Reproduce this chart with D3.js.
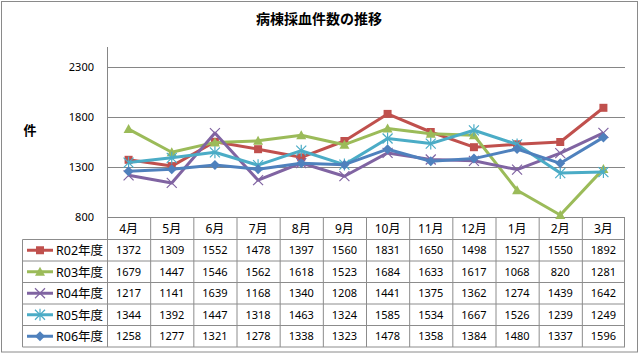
<!DOCTYPE html>
<html>
<head>
<meta charset="utf-8">
<script src="https://cdn.jsdelivr.net/npm/d3@7"></script>
<style>
  body { margin: 0; background: #fff; }
  svg { display: block; }
  text { font-family: "Noto Sans", "Noto Sans CJK JP", sans-serif; fill: #000; }
</style>
</head>
<body>
<div id="chart"></div>
<script>
const months = ["4月", "5月", "6月", "7月", "8月", "9月", "10月", "11月", "12月", "1月", "2月", "3月"];
const seriesNames = ["R02年度", "R03年度", "R04年度", "R05年度", "R06年度"];
const r02 = [1372, 1309, 1552, 1478, 1397, 1560, 1831, 1650, 1498, 1527, 1550, 1892];
const r03 = [1679, 1447, 1546, 1562, 1618, 1523, 1684, 1633, 1617, 1068, 820, 1281];
const r04 = [1217, 1141, 1639, 1168, 1340, 1208, 1441, 1375, 1362, 1274, 1439, 1642];
const r05 = [1344, 1392, 1447, 1318, 1463, 1324, 1585, 1534, 1667, 1526, 1239, 1249];
const r06 = [1258, 1277, 1321, 1278, 1338, 1323, 1478, 1358, 1384, 1480, 1337, 1596];
const yTicks = [800, 1300, 1800, 2300];

const seriesValues = [r02, r03, r04, r05, r06];
const colors = ["#C0504D", "#9BBB59", "#8064A2", "#4BACC6", "#4F81BD"];
const markers = ["square", "triangle", "x", "star", "diamond"];

const W = 640, H = 355;
const plotLeft = 107, plotRight = 625, plotTop = 47, plotBottom = 217;
const headerH = 22, rowH = 21.5, legendLeft = 22.5;

const svg = d3.select("#chart").append("svg")
  .attr("width", W).attr("height", H);

svg.append("rect")
  .attr("x", 1.5).attr("y", 1.5)
  .attr("width", 636).attr("height", 350.5)
  .attr("fill", "#fff").attr("stroke", "#8a8a8a");

svg.append("text")
  .attr("x", 319).attr("y", 24)
  .attr("text-anchor", "middle")
  .style("font-family", "'Noto Sans CJK JP', sans-serif")
  .style("font-weight", "bold")
  .style("font-size", "14px")
  .text("病棟採血件数の推移");

const x = d3.scaleBand().domain(months).range([plotLeft, plotRight]);
const y = d3.scaleLinear().domain([800, 2500]).range([plotBottom, plotTop]);

// gridlines
svg.append("g").selectAll("line").data(yTicks).join("line")
  .attr("x1", plotLeft).attr("x2", plotRight)
  .attr("y1", d => Math.round(y(d)) + 0.5).attr("y2", d => Math.round(y(d)) + 0.5)
  .attr("stroke", "#868686");

// y axis
svg.append("line")
  .attr("x1", plotLeft + 0.5).attr("x2", plotLeft + 0.5)
  .attr("y1", plotTop).attr("y2", plotBottom)
  .attr("stroke", "#868686");

svg.append("g").selectAll("text").data(yTicks).join("text")
  .attr("x", 94).attr("y", d => y(d) + 4)
  .attr("text-anchor", "end")
  .style("font-size", "11px")
  .text(d => d);

svg.append("text")
  .attr("x", 30).attr("y", 135)
  .attr("text-anchor", "middle")
  .style("font-family", "'Noto Sans CJK JP', sans-serif")
  .style("font-weight", "bold")
  .style("font-size", "13px")
  .text("件");

// data table
const tableTop = Math.round(y(800)) + 0.5;
const rowsTop = tableTop + headerH;
const tableBottom = rowsTop + rowH * seriesNames.length;
const grid = svg.append("g").attr("stroke", "#8c8c8c").attr("fill", "none");

months.forEach(m => {
  grid.append("line")
    .attr("x1", x(m) + 0.5).attr("x2", x(m) + 0.5)
    .attr("y1", tableTop).attr("y2", tableBottom);
});
grid.append("line")
  .attr("x1", plotRight - 0.5).attr("x2", plotRight - 0.5)
  .attr("y1", tableTop).attr("y2", tableBottom);
grid.append("line")
  .attr("x1", legendLeft).attr("x2", legendLeft)
  .attr("y1", rowsTop).attr("y2", tableBottom);
seriesNames.forEach((s, i) => {
  grid.append("line")
    .attr("x1", legendLeft).attr("x2", plotRight)
    .attr("y1", rowsTop + rowH * i).attr("y2", rowsTop + rowH * i);
});
grid.append("line")
  .attr("x1", legendLeft).attr("x2", plotRight)
  .attr("y1", tableBottom).attr("y2", tableBottom);

svg.append("g").selectAll("text").data(months).join("text")
  .attr("x", d => x(d) + x.bandwidth() / 2)
  .attr("y", tableTop + 15)
  .attr("text-anchor", "middle")
  .style("font-size", "12px")
  .text(d => d);

seriesValues.forEach((vals, i) => {
  const cy = rowsTop + rowH * i + rowH / 2;
  svg.append("g").selectAll("text").data(vals).join("text")
    .attr("x", (d, j) => x(months[j]) + x.bandwidth() / 2)
    .attr("y", cy + 4)
    .attr("text-anchor", "middle")
    .style("font-size", "11px")
    .text(d => d);
  svg.append("text")
    .attr("x", 56).attr("y", cy + 5)
    .style("font-size", "12.5px")
    .text(seriesNames[i]);
});

function drawMarker(g, type, color, cx, cy) {
  if (type === "square") {
    g.append("rect").attr("x", cx - 4).attr("y", cy - 4)
      .attr("width", 8).attr("height", 8).attr("fill", color);
  } else if (type === "triangle") {
    g.append("path").attr("d", `M${cx},${cy - 5}L${cx + 5},${cy + 4}L${cx - 5},${cy + 4}Z`)
      .attr("fill", color);
  } else if (type === "diamond") {
    g.append("path").attr("d", `M${cx},${cy - 5}L${cx + 5},${cy}L${cx},${cy + 5}L${cx - 5},${cy}Z`)
      .attr("fill", color);
  } else if (type === "x") {
    g.append("path").attr("d", `M${cx - 5},${cy - 5}L${cx + 5},${cy + 5}M${cx + 5},${cy - 5}L${cx - 5},${cy + 5}`)
      .attr("stroke", color).attr("stroke-width", 1.2);
  } else if (type === "star") {
    g.append("path").attr("d", `M${cx - 5},${cy - 5}L${cx + 5},${cy + 5}M${cx + 5},${cy - 5}L${cx - 5},${cy + 5}M${cx},${cy - 6}L${cx},${cy + 6}`)
      .attr("stroke", color).attr("stroke-width", 1.2);
  }
}

// legend keys in table
seriesValues.forEach((vals, i) => {
  const cy = rowsTop + rowH * i + rowH / 2;
  const g = svg.append("g");
  g.append("line").attr("x1", 27).attr("x2", 53)
    .attr("y1", cy).attr("y2", cy)
    .attr("stroke", colors[i]).attr("stroke-width", 3);
  drawMarker(g, markers[i], colors[i], 40, cy);
});

// series lines
const line = d3.line()
  .x((d, j) => x(months[j]) + x.bandwidth() / 2)
  .y(d => y(d));

seriesValues.forEach((vals, i) => {
  const g = svg.append("g");
  g.append("path").datum(vals)
    .attr("d", line)
    .attr("fill", "none")
    .attr("stroke", colors[i])
    .attr("stroke-width", 3)
    .attr("stroke-linejoin", "round");
  vals.forEach((v, j) => {
    drawMarker(g, markers[i], colors[i], x(months[j]) + x.bandwidth() / 2, y(v));
  });
});
</script>
</body>
</html>
